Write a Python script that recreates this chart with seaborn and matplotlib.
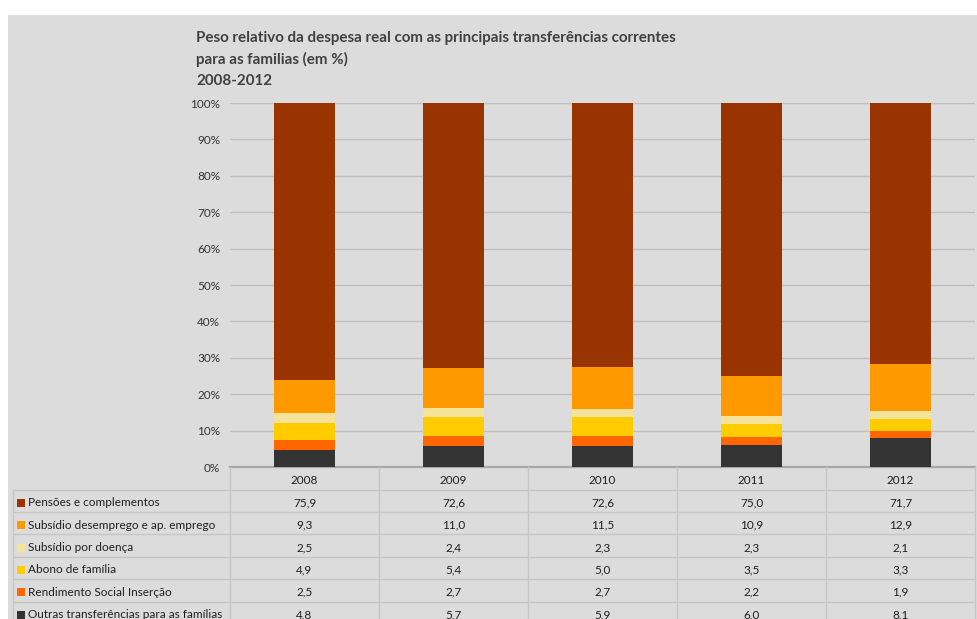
import numpy as np
import matplotlib
matplotlib.use("Agg")
import matplotlib.pyplot as plt
from matplotlib.patches import Rectangle
from matplotlib.lines import Line2D
import seaborn as sns

# ---- data -------------------------------------------------------------
years = ["2008", "2009", "2010", "2011", "2012"]
pensoes = [75.9, 72.6, 72.6, 75.0, 71.7]
desemprego = [9.3, 11.0, 11.5, 10.9, 12.9]
doenca = [2.5, 2.4, 2.3, 2.3, 2.1]
abono = [4.9, 5.4, 5.0, 3.5, 3.3]
rsi = [2.5, 2.7, 2.7, 2.2, 1.9]
outras = [4.8, 5.7, 5.9, 6.0, 8.1]

series_names = [
    "Pensões e complementos",
    "Subsídio desemprego e ap. emprego",
    "Subsídio por doença",
    "Abono de família",
    "Rendimento Social Inserção",
    "Outras transferências para as famílias",
]
series_values = [pensoes, desemprego, doenca, abono, rsi, outras]
series_colors = ["#993300", "#FF9900", "#F6E39A", "#FFCC00", "#FF6600", "#333333"]

title_lines = [
    "Peso relativo da despesa real com as principais transferências correntes",
    "para as familias (em %)",
    "2008-2012",
]

# ---- figure -----------------------------------------------------------
W, H = 977, 619
BG = "#dcdcdc"
GRID = "#bfbfbf"
BORDER = "#c6c6c6"
TXT = "#1f1f1f"

sns.set_theme(style="white")
plt.rcParams["font.family"] = ["Lato", "DejaVu Sans"]

fig = plt.figure(figsize=(W / 100, H / 100), dpi=100, facecolor="white")
fig.add_artist(Rectangle((8 / W, 0), 1 - 8 / W, (H - 15) / H,
                         transform=fig.transFigure, facecolor=BG,
                         edgecolor="none", zorder=0))

# plot area in pixel terms
x0, x1 = 230, 975
y_top, y_bot = 103, 467
ax = fig.add_axes([x0 / W, (H - y_bot) / H, (x1 - x0) / W, (y_bot - y_top) / H])
ax.set_facecolor("none")

# 100% stacked: normalise each year, then draw cumulative totals top-down
vals = np.array(series_values, dtype=float)
share = vals / vals.sum(axis=0) * 100
# stacking order from the bottom: outras, rsi, abono, doenca, desemprego, pensoes
stack_order = list(range(len(series_names)))[::-1]
cum = np.cumsum(share[stack_order], axis=0)
for level in range(len(stack_order) - 1, -1, -1):
    idx = stack_order[level]
    sns.barplot(x=years, y=cum[level], color=series_colors[idx],
                saturation=1, width=0.41, ax=ax, zorder=3, linewidth=0)

ax.set_xlim(-0.5, len(years) - 0.5)
ax.set_ylim(0, 100)
ax.set_yticks(np.arange(0, 101, 10))
ax.set_yticklabels([f"{t}%" for t in range(0, 101, 10)])
ax.tick_params(axis="y", length=0, pad=7, labelsize=8.5, labelcolor="#333333")
ax.set_xticks([])
ax.set_xlabel("")
ax.set_ylabel("")
for t in range(10, 101, 10):
    ax.axhline(t, color=GRID, lw=1.0, zorder=1)
for s in ["top", "right", "left"]:
    ax.spines[s].set_visible(False)
ax.spines["bottom"].set_color("#a8a8a8")
ax.spines["bottom"].set_linewidth(1.6)

# ---- title ------------------------------------------------------------
ov = fig.add_axes([0, 0, 1, 1])
ov.set_xlim(0, W)
ov.set_ylim(H, 0)
ov.axis("off")
ov.set_zorder(5)
for i, line in enumerate(title_lines):
    ov.text(196, 38 + i * 21.5, line, fontsize=10.9, fontweight="bold",
            color="#404040", va="center", ha="left")

# ---- data table -------------------------------------------------------
col_w = (x1 - x0) / len(years)
row_h = 22.4
hdr_bot = y_bot + 22.5
rows_top = [hdr_bot + i * row_h for i in range(len(series_names))]

# header row with years
for j, yr in enumerate(years):
    ov.text(x0 + col_w * (j + 0.5), (y_bot + hdr_bot) / 2 + 2, yr,
            fontsize=8.5, color=TXT, ha="center", va="center")
# vertical lines
for j in range(len(years) + 1):
    ov.add_line(Line2D([x0 + col_w * j] * 2, [y_bot, H + 5], color=BORDER, lw=1))
ov.add_line(Line2D([13, 13], [hdr_bot, H + 5], color=BORDER, lw=1))
# horizontal lines
for k in range(len(series_names) + 1):
    yy = hdr_bot + k * row_h
    ov.add_line(Line2D([13, x1], [yy, yy], color=BORDER, lw=1))

for i, name in enumerate(series_names):
    yc = rows_top[i] + row_h / 2 + 2
    ov.add_patch(Rectangle((17, yc - 4), 8, 8, facecolor=series_colors[i],
                           edgecolor="none"))
    ov.text(28, yc, name, fontsize=8.5, color=TXT, ha="left", va="center")
    for j in range(len(years)):
        ov.text(x0 + col_w * (j + 0.5), yc, f"{series_values[i][j]:.1f}".replace(".", ","),
                fontsize=8.5, color=TXT, ha="center", va="center")

fig.savefig("out.png", dpi=100, facecolor="white")
